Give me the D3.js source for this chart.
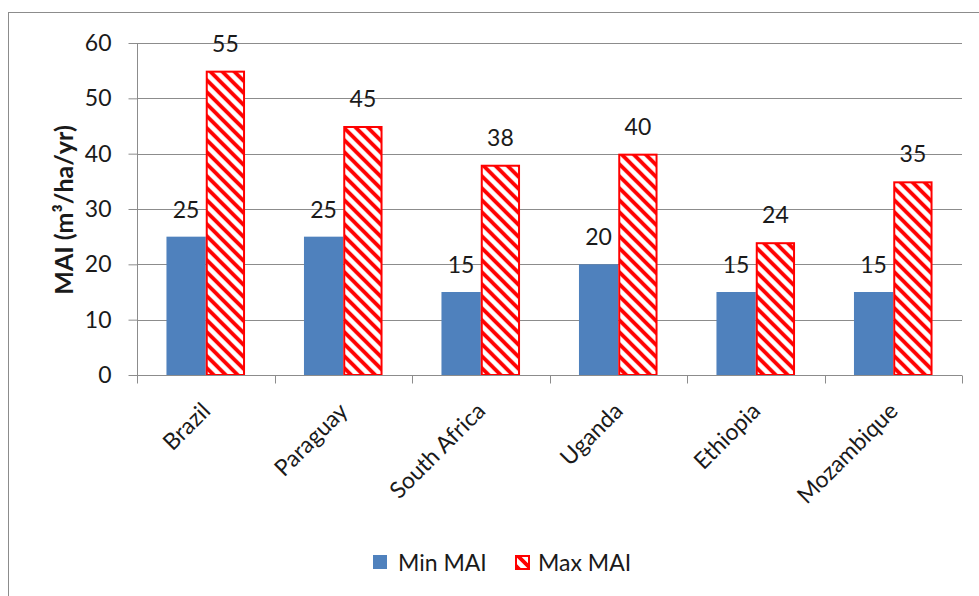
<!DOCTYPE html>
<html>
<head>
<meta charset="utf-8">
<script src="https://cdn.jsdelivr.net/npm/d3@7"></script>
<style>
  html, body { margin: 0; padding: 0; background: #fff; }
  svg { display: block; }
  text { font-family: Lato, "Open Sans", sans-serif; fill: #1a1a1a; }
</style>
</head>
<body>
<svg id="chart" width="979" height="596"></svg>
<script>
// Mean annual increment by country
const countries = ["Brazil", "Paraguay", "South Africa", "Uganda", "Ethiopia", "Mozambique"];
const minMAI = [25, 25, 15, 20, 15, 15];
const maxMAI = [55, 45, 38, 40, 24, 35];
const seriesNames = ["Min MAI", "Max MAI"];
const yTicks = [0, 10, 20, 30, 40, 50, 60];

const FS = 23;
const svg = d3.select("#chart");
const margin = { left: 137, right: 17, top: 43, bottom: 221 };
const W = 979, H = 596;
const plotW = W - margin.left - margin.right;
const plotH = H - margin.top - margin.bottom;

// outer chart frame
svg.append("rect")
  .attr("x", 8.5).attr("y", 12.5)
  .attr("width", 1000).attr("height", 700)
  .attr("fill", "none").attr("stroke", "#8c8c8c").attr("stroke-width", 1);

// hatch pattern for the maximum series
const P = 12;
const defs = svg.append("defs");
const pat = defs.append("pattern")
  .attr("id", "hatch").attr("patternUnits", "userSpaceOnUse")
  .attr("width", P).attr("height", P);
pat.append("rect").attr("width", P).attr("height", P).attr("fill", "#fff");
pat.append("path")
  .attr("d", `M-3,-3 L${P + 3},${P + 3} M-3,${P - 3} L3,${P + 3} M${P - 3},-3 L${P + 3},3`)
  .attr("stroke", "#ff0000").attr("stroke-width", 3.8);

const x = d3.scaleBand().domain(countries).range([0, plotW]).paddingInner(0).paddingOuter(0);
const y = d3.scaleLinear().domain([0, 60]).range([plotH, 0]);
const barW = x.bandwidth() / 3.5;

const g = svg.append("g").attr("transform", `translate(${margin.left},${margin.top})`);

// gridlines
g.selectAll(".grid").data(yTicks.slice(1)).enter().append("line")
  .attr("x1", 0).attr("x2", plotW)
  .attr("y1", d => Math.round(y(d)) + 0.5).attr("y2", d => Math.round(y(d)) + 0.5)
  .attr("stroke", "#8c8c8c").attr("stroke-width", 1);

// y axis
const yAxis = g.append("g").attr("transform", "translate(0.5,0)")
  .call(d3.axisLeft(y).tickValues(yTicks).tickSize(9).tickPadding(17));
yAxis.select(".domain").attr("stroke", "#8c8c8c").attr("d", `M-0,${y(60)}V${plotH + 6}`);
yAxis.selectAll(".tick line").attr("stroke", "#8c8c8c");
yAxis.selectAll(".tick text").attr("font-size", FS).attr("fill", "#1a1a1a")
  .attr("font-family", "Lato, sans-serif");

// bars
const groups = g.selectAll(".cat").data(countries).enter().append("g")
  .attr("transform", d => `translate(${x(d) + x.bandwidth() / 2},0)`);

groups.append("rect")
  .attr("x", -barW).attr("width", barW)
  .attr("y", (d, i) => y(minMAI[i])).attr("height", (d, i) => plotH - y(minMAI[i]))
  .attr("fill", "#4f81bd");

groups.append("rect")
  .attr("x", 1).attr("width", barW - 2)
  .attr("y", (d, i) => y(maxMAI[i]) + 1).attr("height", (d, i) => plotH - y(maxMAI[i]) - 1)
  .attr("fill", "url(#hatch)").attr("stroke", "#ff0000").attr("stroke-width", 2);

// data labels
groups.append("text")
  .attr("x", -barW / 2).attr("y", (d, i) => y(minMAI[i]) - 19)
  .attr("text-anchor", "middle").attr("font-size", FS)
  .text((d, i) => minMAI[i]);
groups.append("text")
  .attr("x", barW / 2).attr("y", (d, i) => y(maxMAI[i]) - 19)
  .attr("text-anchor", "middle").attr("font-size", FS)
  .text((d, i) => maxMAI[i]);

// x axis
const xAxis = g.append("g").attr("transform", `translate(0,${Math.round(plotH) + 0.5})`);
xAxis.append("line").attr("x1", 0).attr("x2", plotW).attr("stroke", "#8c8c8c");
xAxis.selectAll(".xt").data(d3.range(countries.length + 1)).enter().append("line")
  .attr("x1", d => Math.round(d * x.bandwidth()) + 0.5).attr("x2", d => Math.round(d * x.bandwidth()) + 0.5)
  .attr("y1", 0).attr("y2", 8).attr("stroke", "#8c8c8c");
xAxis.selectAll(".xl").data(countries).enter().append("text")
  .attr("transform", d => `translate(${x(d) + x.bandwidth() / 2 + 6},${37}) rotate(-45)`)
  .attr("text-anchor", "end").attr("font-size", FS)
  .text(d => d);

// y axis title
svg.append("text")
  .attr("transform", `translate(73,${margin.top + plotH / 2 + 1}) rotate(-90)`)
  .attr("text-anchor", "middle").attr("font-size", 25).attr("font-weight", "bold")
  .text("MAI (m³/ha/yr)");

// legend
const legend = svg.append("g").attr("transform", "translate(373,555)");
legend.append("rect").attr("x", 0).attr("y", 0).attr("width", 14).attr("height", 14).attr("fill", "#4f81bd");
legend.append("text").attr("x", 25).attr("y", 16).attr("font-size", FS).text(seriesNames[0]);
legend.append("rect").attr("x", 143).attr("y", 1).attr("width", 13).attr("height", 13)
  .attr("fill", "url(#hatch)").attr("stroke", "#ff0000").attr("stroke-width", 2);
legend.append("text").attr("x", 165).attr("y", 16).attr("font-size", FS).text(seriesNames[1]);
</script>
</body>
</html>
